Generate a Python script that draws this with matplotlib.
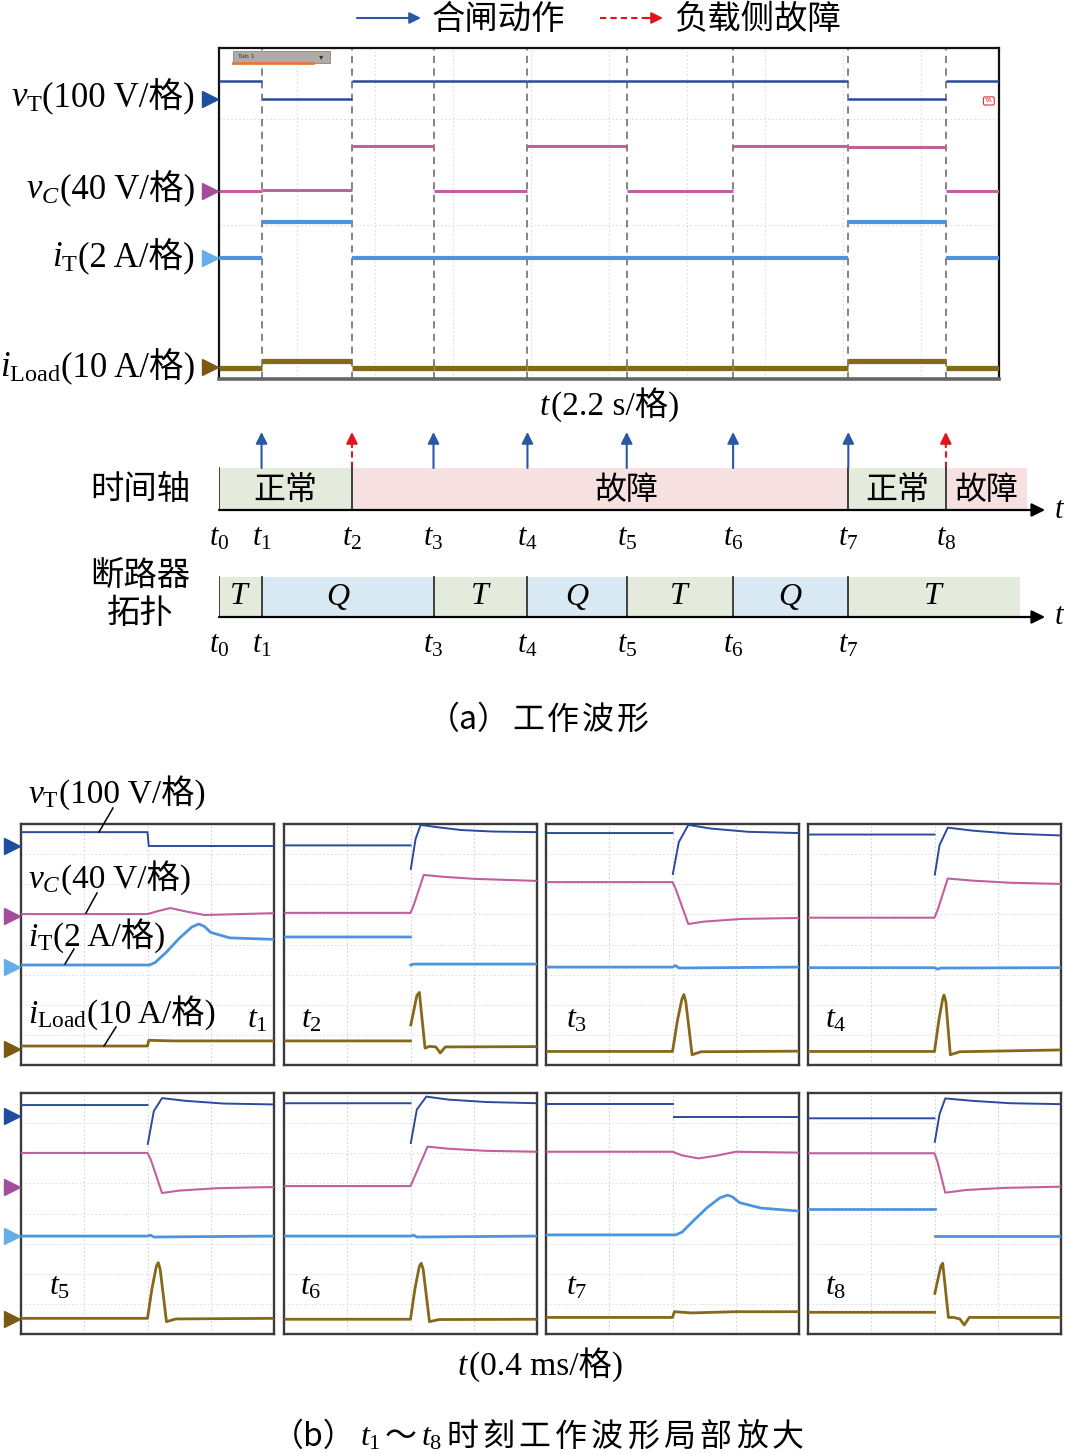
import matplotlib
matplotlib.use('Agg')
import matplotlib.pyplot as plt
from matplotlib.patches import Rectangle
from matplotlib.offsetbox import TextArea, HPacker, AnnotationBbox

plt.rcParams['font.family'] = ['Liberation Serif', 'Noto Sans CJK SC']
plt.rcParams['mathtext.fontset'] = 'custom'
plt.rcParams['mathtext.rm'] = 'Liberation Serif'
plt.rcParams['mathtext.it'] = 'Liberation Serif:italic'
plt.rcParams['mathtext.bf'] = 'Liberation Serif:bold'

FAM = ['Liberation Serif', 'Noto Sans CJK SC']
CJK = ['Noto Sans CJK SC', 'Liberation Serif']
NAN = float('nan')

# ---------------- data: overview (a) ----------------
# event instants t0..t8 in seconds (2.2 s/div, 10 div)
T_EVENTS = [0, 1.2, 3.75, 6.05, 8.7, 11.5, 14.5, 17.75, 20.5]
T_NAMES = ['t_0', 't_1', 't_2', 't_3', 't_4', 't_5', 't_6', 't_7', 't_8']
SCOPE_END = 22.0
# levels (in divisions, 0..8) per interval [t_i, t_i+1]
vT_levels = [7.20, 6.77, 7.20, 7.20, 7.20, 7.20, 7.20, 6.77, 7.20]
vC_levels = [4.54, 4.57, 5.63, 4.54, 5.63, 4.54, 5.63, 5.61, 4.54]
iT_levels = [2.92, 3.79, 2.92, 2.92, 2.92, 2.92, 2.92, 3.79, 2.92]
iL_levels = [0.27, 0.435, 0.27, 0.27, 0.27, 0.27, 0.27, 0.435, 0.27]
trig_top = [6.77, 4.54, 2.92, 0.29]

close_idx = [1, 3, 4, 5, 6, 7]      # 合闸动作 arrows
fault_idx = [2, 8]                  # 负载侧故障 arrows

state_bounds = [0, 3.75, 17.75, 20.5, 22.79]
state_names = ['正常', '故障', '正常', '故障']
state_label_x = [1.875, 11.5, 19.125, 21.645]
state_kind = ['n', 'f', 'n', 'f']

topo_bounds = [0, 1.2, 6.05, 8.7, 11.5, 14.5, 17.75, 22.6]
topo_names = ['T', 'Q', 'T', 'Q', 'T', 'Q', 'T']
topo_label_x = [0.6, 3.35, 7.375, 10.1, 13.0, 16.125, 20.175]
topo_ticks = [0, 1, 3, 4, 5, 6, 7]

# ---------------- data: zoomed panels (b) ----------------
# x in ms relative to event (0.4 ms/div), y in divisions (0..8); NaN = trace gap
P_t1 = {
    'vT': ([-2, 0, 0.02, 2], [7.73, 7.73, 7.27, 7.27]),
    'vC': ([-2, 0, 0.15, 0.36, 0.6, 0.9, 1.3, 2], [5.01, 5.01, 5.1, 5.21, 5.1, 4.98, 5.0, 5.04]),
    'iT': ([-2, 0.03, 0.12, 0.3, 0.5, 0.7, 0.81, 0.9, 1.0, 1.3, 2],
           [3.32, 3.32, 3.4, 3.75, 4.2, 4.58, 4.68, 4.6, 4.4, 4.22, 4.17]),
    'iL': ([-2, 0, 0.02, 0.4, 2], [0.63, 0.63, 0.82, 0.8, 0.8]),
}
P_t2 = {
    'vT': ([-2, 0, NAN, 0.005, 0.08, 0.16, 0.4, 0.8, 1.3, 2],
           [7.29, 7.29, NAN, 6.51, 7.5, 7.97, 7.9, 7.8, 7.75, 7.73]),
    'vC': ([-2, 0, 0.05, 0.21, 0.5, 1.0, 2], [5.05, 5.05, 5.3, 6.31, 6.25, 6.18, 6.11]),
    'iT': ([-2, 0, NAN, 0.005, 0.05, 2], [4.25, 4.25, NAN, 3.32, 3.35, 3.35]),
    'iL': ([-2, 0, NAN, 0.005, 0.1, 0.14, 0.23, 0.3, 0.4, 0.47, 0.55, 2],
           [0.8, 0.8, NAN, 1.33, 2.3, 2.41, 0.56, 0.62, 0.6, 0.4, 0.6, 0.61]),
}
P_t3 = {
    'vT': ([-2, 0, NAN, 0.005, 0.1, 0.25, 0.6, 1.2, 2], [7.70, 7.70, NAN, 6.34, 7.4, 7.97, 7.85, 7.74, 7.70]),
    'vC': ([-2, 0, 0.05, 0.25, 0.5, 1.1, 2], [6.07, 6.07, 5.85, 4.68, 4.76, 4.85, 4.88]),
    'iT': ([-2, 0, 0.05, 0.1, 2], [3.25, 3.25, 3.3, 3.22, 3.25]),
    'iL': ([-2, 0, 0.08, 0.15, 0.18, 0.21, 0.31, 0.45, 2], [0.45, 0.45, 1.5, 2.2, 2.34, 2.1, 0.34, 0.44, 0.46]),
}
P_t4 = {
    'vT': ([-2, 0, NAN, 0.005, 0.08, 0.21, 0.6, 1.2, 2], [7.65, 7.65, NAN, 6.32, 7.3, 7.88, 7.78, 7.68, 7.62]),
    'vC': ([-2, 0, 0.05, 0.21, 0.6, 1.2, 2], [4.89, 4.89, 5.15, 6.19, 6.12, 6.05, 6.01]),
    'iT': ([-2, 0, 0.05, 0.1, 2], [3.23, 3.23, 3.18, 3.22, 3.23]),
    'iL': ([-2, 0, 0.07, 0.13, 0.15, 0.18, 0.25, 0.4, 2], [0.45, 0.45, 1.5, 2.2, 2.32, 2.1, 0.34, 0.44, 0.5]),
}
P_t5 = {
    'vT': ([-2, 0, NAN, 0.005, 0.1, 0.23, 0.6, 1.2, 2], [7.60, 7.60, NAN, 6.31, 7.4, 7.83, 7.74, 7.65, 7.62]),
    'vC': ([-2, 0, 0.05, 0.23, 0.5, 1.1, 2], [6.01, 6.01, 5.8, 4.68, 4.76, 4.84, 4.88]),
    'iT': ([-2, 0, 0.05, 0.1, 2], [3.25, 3.25, 3.28, 3.22, 3.25]),
    'iL': ([-2, 0, 0.07, 0.14, 0.17, 0.2, 0.3, 0.45, 2], [0.52, 0.52, 1.5, 2.25, 2.37, 2.15, 0.41, 0.5, 0.52]),
}
P_t6 = {
    'vT': ([-2, 0, NAN, 0.005, 0.1, 0.25, 0.6, 1.2, 2], [7.66, 7.66, NAN, 6.34, 7.45, 7.88, 7.78, 7.70, 7.66]),
    'vC': ([-2, 0, 0.05, 0.27, 0.6, 1.2, 2], [4.91, 4.91, 5.15, 6.22, 6.15, 6.08, 6.05]),
    'iT': ([-2, 0, 0.05, 0.1, 2], [3.25, 3.25, 3.28, 3.22, 3.25]),
    'iL': ([-2, 0, 0.07, 0.14, 0.17, 0.2, 0.3, 0.45, 2], [0.49, 0.49, 1.5, 2.25, 2.35, 2.15, 0.41, 0.48, 0.49]),
}
P_t7 = {
    'vT': ([-2, 0, NAN, 0.02, 2], [7.63, 7.63, NAN, 7.19, 7.19]),
    'vC': ([-2, 0, 0.15, 0.41, 0.7, 1.0, 2], [6.05, 6.05, 5.93, 5.83, 5.92, 6.05, 6.02]),
    'iT': ([-2, 0.05, 0.15, 0.35, 0.55, 0.75, 0.87, 0.95, 1.06, 1.4, 2],
           [3.29, 3.29, 3.38, 3.8, 4.2, 4.52, 4.61, 4.55, 4.36, 4.18, 4.08]),
    'iL': ([-2, 0, 0.03, 0.3, 1.0, 2], [0.55, 0.55, 0.74, 0.70, 0.74, 0.74]),
}
P_t8 = {
    'vT': ([-2, 0, NAN, 0.005, 0.08, 0.17, 0.6, 1.2, 2], [7.16, 7.16, NAN, 6.38, 7.3, 7.82, 7.74, 7.66, 7.63]),
    'vC': ([-2, 0, 0.05, 0.17, 0.5, 1.1, 2], [6.0, 6.0, 5.7, 4.69, 4.78, 4.85, 4.89]),
    'iT': ([-2, 0, NAN, 0.005, 0.05, 2], [4.14, 4.14, NAN, 3.25, 3.25, 3.25]),
    'iL': ([-2, 0, NAN, 0.005, 0.1, 0.13, 0.22, 0.3, 0.4, 0.47, 0.55, 2],
           [0.72, 0.72, NAN, 1.35, 2.25, 2.35, 0.55, 0.55, 0.5, 0.30, 0.55, 0.55]),
}
PANELS = [P_t1, P_t2, P_t3, P_t4, P_t5, P_t6, P_t7, P_t8]
PANEL_LABELS = ['t_1', 't_2', 't_3', 't_4', 't_5', 't_6', 't_7', 't_8']
trig_rows = [[7.27, 4.95, 3.25, 0.53], [7.24, 4.89, 3.26, 0.50]]

# ---------------- styles ----------------
C_VT, C_VC, C_IT, C_IL = '#2a4b9b', '#c2609f', '#4d94de', '#86681a'
M_COL = ['#1d4f9e', '#a24f9b', '#66aee9', '#7a5a12']
BLUE_ARROW, RED_ARROW = '#2b58a6', '#e0141e'
C_NORMAL, C_FAULT, C_Q = '#e4eadc', '#f6e0e0', '#d8e9f3'

W, H = 1066, 1454
fig = plt.figure(figsize=(W / 100, H / 100), dpi=100)


def ax_px(left, top, width, height, **kw):
    return fig.add_axes([left / W, 1 - (top + height) / H, width / W, height / H], **kw)


def rich(ax, x, y, parts, size, ha=0.5, va=0.5, sep=0, fams=None, color='black'):
    boxes = []
    for i, p in enumerate(parts):
        fam = fams[i] if fams else FAM
        boxes.append(TextArea(p, textprops=dict(fontsize=size, color=color, family=fam)))
    pack = HPacker(children=boxes, align='baseline', pad=0, sep=sep)
    ab = AnnotationBbox(pack, (x, y), xycoords='data', box_alignment=(ha, va),
                        frameon=False, pad=0, annotation_clip=False)
    ab.set_zorder(20)
    ax.add_artist(ab)


# ---------------- top oscilloscope ----------------
sc = ax_px(219, 48, 780, 331)
sc.set_xlim(0, SCOPE_END)
sc.set_ylim(0, 8)
sc.set_xticks([]); sc.set_yticks([])
for s in sc.spines.values():
    s.set_linewidth(1.6); s.set_color('#111111')
sc.spines['bottom'].set_linewidth(2.6); sc.spines['bottom'].set_color('#666666')
for k in range(1, 10):
    sc.axvline(2.2 * k, color='#dcdcdc', lw=0.8, ls=(0, (1.5, 2)), zorder=0)
for yy in [6.28, 3.72]:
    sc.axhline(yy, color='#dcdcdc', lw=0.8, ls=(0, (1.5, 2)), zorder=0)
for te in T_EVENTS[1:]:
    sc.axvline(te, color='#7a7a7a', lw=1.3, ls=(0, (4, 3)), zorder=1)
bounds = T_EVENTS + [SCOPE_END]
for levels, col, lw in [(vT_levels, C_VT, 1.8), (vC_levels, C_VC, 2.2),
                        (iT_levels, C_IT, 3.0), (iL_levels, C_IL, 3.8)]:
    for i, lev in enumerate(levels):
        sc.plot([bounds[i], bounds[i + 1]], [lev, lev], color=col, lw=lw,
                solid_capstyle='butt', zorder=3)
for lev, mc in zip(trig_top, M_COL):
    sc.plot([-0.24], [lev], marker='>', ms=11, color=mc, clip_on=False, zorder=5)
# "Tab 1" widget and trigger tag
sc.add_patch(Rectangle((0.018, 0.955), 0.124, 0.036, transform=sc.transAxes,
                       facecolor='#b2aaa4', edgecolor='#8c8480', lw=0.6, zorder=6))
sc.plot([0.018, 0.12], [0.955, 0.955], transform=sc.transAxes, color='#e07a3a', lw=2, zorder=7)
sc.text(0.025, 0.973, 'Tab 1', transform=sc.transAxes, fontsize=4.5, va='center', color='#333', zorder=7,
        family='DejaVu Sans')
sc.text(0.131, 0.973, '▾', transform=sc.transAxes, fontsize=6, va='center', ha='center', color='#333',
        zorder=7, family='DejaVu Sans')
sc.text(0.987, 0.84, 'TA', transform=sc.transAxes, fontsize=4.5, va='center', ha='center', color='#d02020',
        family='DejaVu Sans', zorder=7,
        bbox=dict(boxstyle='round,pad=0.25', fc='white', ec='#e03030', lw=0.8))

# ---------------- timeline axes ----------------
tl = ax_px(219, 420, 847, 250)
tl.set_xlim(0, 847 / 780 * SCOPE_END)
tl.set_ylim(670, 420)
tl.axis('off')
# arrows
for i in close_idx:
    tl.annotate('', xy=(T_EVENTS[i], 432), xytext=(T_EVENTS[i], 468),
                arrowprops=dict(arrowstyle='-|>', color=BLUE_ARROW, lw=1.5, mutation_scale=17,
                                shrinkA=0, shrinkB=0))
for i in fault_idx:
    tl.plot([T_EVENTS[i], T_EVENTS[i]], [468, 446], color=RED_ARROW, lw=1.5, ls=(0, (3, 2)))
    tl.annotate('', xy=(T_EVENTS[i], 432), xytext=(T_EVENTS[i], 447),
                arrowprops=dict(arrowstyle='-|>', color=RED_ARROW, lw=1.5, mutation_scale=17,
                                shrinkA=0, shrinkB=0))
# state bar
for i, name in enumerate(state_names):
    x0, x1 = state_bounds[i], state_bounds[i + 1]
    tl.add_patch(Rectangle((x0, 468), x1 - x0, 42, facecolor=C_NORMAL if state_kind[i] == 'n' else C_FAULT,
                           edgecolor='none', zorder=1))
    tl.text(state_label_x[i], 490, name, ha='center', va='center', fontsize=23, family=CJK, zorder=3)
for b in state_bounds[:-1]:
    tl.plot([b, b], [468, 510], color='#333333', lw=1.3, zorder=2)
tl.annotate('', xy=(23.3, 510), xytext=(0, 510),
            arrowprops=dict(arrowstyle='-|>', color='black', lw=1.6, mutation_scale=20, shrinkA=0, shrinkB=0))
for i, nm in enumerate(T_NAMES):
    rich(tl, T_EVENTS[i], 538, [r'$%s$' % nm], 22)
rich(tl, 23.72, 510, [r'$t$'], 22)
# topology bar
for i, name in enumerate(topo_names):
    x0, x1 = topo_bounds[i], topo_bounds[i + 1]
    tl.add_patch(Rectangle((x0, 577), x1 - x0, 40, facecolor=C_NORMAL if name == 'T' else C_Q,
                           edgecolor='none', zorder=1))
    rich(tl, topo_label_x[i], 597, [r'$%s$' % name], 23)
for b in topo_bounds[:-1]:
    tl.plot([b, b], [577, 617], color='#333333', lw=1.3, zorder=2)
tl.annotate('', xy=(23.3, 617), xytext=(0, 617),
            arrowprops=dict(arrowstyle='-|>', color='black', lw=1.6, mutation_scale=20, shrinkA=0, shrinkB=0))
for i in topo_ticks:
    rich(tl, T_EVENTS[i], 645, [r'$%s$' % T_NAMES[i]], 22)
rich(tl, 23.72, 617, [r'$t$'], 22)

# ---------------- zoomed panels ----------------
PANEL_LEFT = [21, 284, 546, 808]
PANEL_TOP = [824, 1093]
PW, PH = 253, 241
for k, P in enumerate(PANELS):
    r, c = divmod(k, 4)
    ax = ax_px(PANEL_LEFT[c], PANEL_TOP[r], PW, PH)
    ax.set_xlim(-2, 2); ax.set_ylim(0, 8)
    ax.set_xticks([]); ax.set_yticks([])
    for s in ax.spines.values():
        s.set_linewidth(1.7); s.set_color('#3a3a3a')
    for xx in [-1, 0, 1]:
        ax.axvline(xx, color='#d2d2d2', lw=0.8, ls=(0, (1.5, 2)), zorder=0)
    for yy in range(1, 8):
        ax.axhline(yy, color='#dadada', lw=0.7, ls=(0, (1.5, 2.5)), zorder=0)
    for key, col, lw in [('vT', C_VT, 1.4), ('vC', C_VC, 1.5), ('iT', C_IT, 2.0), ('iL', C_IL, 2.0)]:
        x, y = P[key]
        ax.plot(x, y, color=col, lw=lw, zorder=3)
    if c == 0:
        for lev, mc in zip(trig_rows[r], M_COL):
            ax.plot([-2.14], [lev], marker='>', ms=11, color=mc, clip_on=False, zorder=5)

# ---------------- canvas (text) ----------------
cv = ax_px(0, 0, W, H)
cv.set_xlim(0, W); cv.set_ylim(H, 0)
cv.axis('off')
cv.set_zorder(10)

# legend
cv.annotate('', xy=(421, 18), xytext=(357, 18),
            arrowprops=dict(arrowstyle='-|>', color=BLUE_ARROW, lw=1.5, mutation_scale=17, shrinkA=0, shrinkB=0))
cv.text(432, 20, '合闸动作', ha='left', va='center', fontsize=24, family=CJK)
cv.plot([600, 648], [18, 18], color=RED_ARROW, lw=1.5, ls=(0, (3, 2)))
cv.annotate('', xy=(663, 18), xytext=(645, 18),
            arrowprops=dict(arrowstyle='-|>', color=RED_ARROW, lw=1.5, mutation_scale=17, shrinkA=0, shrinkB=0))
cv.text(674, 20, '负载侧故障', ha='left', va='center', fontsize=24, family=CJK)

# scope labels
rich(cv, 195, 97, [r'$v_{\mathrm{T}}$', '(100 V/格)'], 25, ha=1.0)
rich(cv, 195, 189, [r'$v_C$', '(40 V/格)'], 25, ha=1.0)
rich(cv, 195, 257, [r'$i_{\mathrm{T}}$', '(2 A/格)'], 25, ha=1.0)
rich(cv, 195, 367, [r'$i_{\mathrm{Load}}$', '(10 A/格)'], 25, ha=1.0)
rich(cv, 609, 405, [r'$t$', '(2.2 s/格)'], 24)

cv.text(140, 490, '时间轴', ha='center', va='center', fontsize=24, family=CJK)
cv.text(140, 575, '断路器', ha='center', va='center', fontsize=24, family=CJK)
cv.text(140, 613, '拓扑', ha='center', va='center', fontsize=24, family=CJK)

rich(cv, 538, 720, ['（a）', '工', '作', '波', '形'], 23, sep=2, fams=[CJK] * 5)

# panel annotations
rich(cv, 28, 793, [r'$v_{\mathrm{T}}$', '(100 V/格)'], 24, ha=0.0)
rich(cv, 28, 878, [r'$v_C$', '(40 V/格)'], 24, ha=0.0)
rich(cv, 28, 936, [r'$i_{\mathrm{T}}$', '(2 A/格)'], 24, ha=0.0)
rich(cv, 28, 1013, [r'$i_{\mathrm{Load}}$', '(10 A/格)'], 24, ha=0.0)
for (x0, y0, x1, y1) in [(113, 808, 99, 832), (97, 893, 86, 913), (74, 949, 65, 964), (116, 1027, 104, 1046)]:
    cv.plot([x0, x1], [y0, y1], color='black', lw=1.1)

label_pos = [(257, 1020), (311, 1020), (577, 1020), (836, 1020),
             (60, 1287), (311, 1287), (577, 1287), (836, 1287)]
for (lx, ly), nm in zip(label_pos, PANEL_LABELS):
    rich(cv, lx, ly, [r'$%s$' % nm], 23)

rich(cv, 540, 1365, [r'$t$', '(0.4 ms/格)'], 24)
cap_parts = ['（b）', r'$t_1$', '～', r'$t_8$'] + list('时刻工作波形局部放大')
cap_fams = [CJK, FAM, CJK, FAM] + [CJK] * 10
rich(cv, 538, 1437, cap_parts, 23, sep=3, fams=cap_fams)

fig.savefig('out.png', dpi=100)
